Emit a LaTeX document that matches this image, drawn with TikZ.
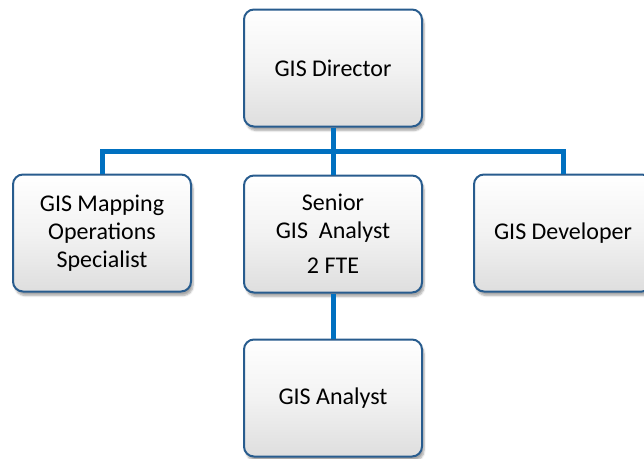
\documentclass[tikz,border=0pt]{standalone}
\usepackage{fontspec}
\setmainfont{Carlito}
\usetikzlibrary{shadows.blur}
\definecolor{linkblue}{RGB}{0,112,192}
\definecolor{boxedge}{RGB}{40,92,142}
\definecolor{boxbot}{RGB}{222,222,222}
\tikzset{
  orgbox/.style={draw=boxedge, line width=2pt, rounded corners=10pt,
    minimum width=178pt, minimum height=117pt, align=center,
    top color=white, bottom color=boxbot, middle color=white!95!black,
    font=\fontsize{24}{28}\selectfont,
    blur shadow={shadow xshift=2pt, shadow yshift=-4pt, shadow blur steps=6, shadow opacity=35}},
  conn/.style={draw=linkblue, line width=5pt}
}
\begin{document}
\begin{tikzpicture}[x=1pt,y=1pt]
\useasboundingbox (0,0) rectangle (644,-458);
\clip (0,0) rectangle (644,-458);
\coordinate (bus) at (333,-151);
\node[orgbox] (dir) at (333,-68) {GIS Director};
\node[orgbox] (left) at (102,-233) {GIS Mapping\\Operations\\Specialist};
\node[orgbox] (mid) at (333,-234) {Senior\\GIS\ \ Analyst\\[7pt]2 FTE};
\node[orgbox] (right) at (563,-233) {GIS Developer};
\node[orgbox] (ana) at (333,-398) {GIS Analyst};
\draw[conn] (dir.south) -- (dir.south |- bus);
\draw[conn] (left.north) |- (bus) -| (right.north);
\draw[conn] (mid.north) -- (mid.north |- bus);
\draw[conn] (mid.south) -- (ana.north);
\end{tikzpicture}
\end{document}
